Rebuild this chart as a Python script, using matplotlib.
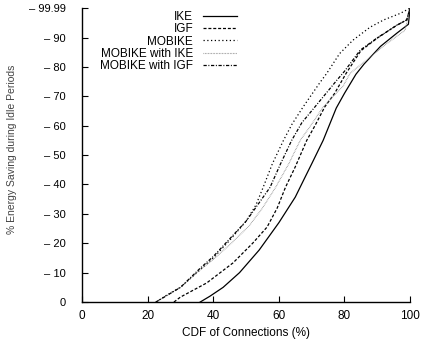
import matplotlib
matplotlib.use("Agg")
import matplotlib.pyplot as plt

plt.rcParams['font.family'] = ['Liberation Sans', 'DejaVu Sans']

# CDF of connections (%) vs energy saving (%) for each scheme
ike_x = [36, 39, 43, 48, 54, 60, 65, 68, 70, 73.5, 77.5, 80, 83.5, 86, 91, 96, 99.5, 100]
ike_y = [0, 2, 5, 10, 17.7, 27, 35.7, 42.5, 47, 55, 66, 71, 77.5, 81, 87, 91.5, 94.5, 99.99]

igf_x = [28, 30, 38, 46, 52, 56.4, 59.5, 62, 65, 68.5, 71, 74, 77, 80.5, 85, 90, 96, 99, 100]
igf_y = [0, 1.7, 6.5, 13.3, 20, 25.5, 32, 39, 46, 55, 60, 66.4, 71, 77.8, 85.5, 89.8, 94.2, 96, 99.99]

mobike_x = [22.5, 26, 30, 36, 40, 45, 50, 53, 55.2, 58, 61.4, 64, 67.4, 72.6, 74.6, 78.5, 82.6, 87.8, 92, 97, 100]
mobike_y = [0, 2.5, 5, 11, 15, 21, 27.5, 33, 39, 47, 55, 60.5, 66.4, 74.8, 77.8, 84.5, 89.1, 93.5, 96, 98.2, 99.99]

mob_ike_x = [22.5, 30, 36, 40, 45.5, 51, 55, 59, 63, 66.5, 70, 73.5, 79.6, 81.7, 87.8, 93, 98.5, 100]
mob_ike_y = [0, 5, 11, 14.5, 20, 26, 32, 39, 47, 55, 60.5, 66.4, 73.5, 77.8, 83.3, 88, 92.5, 99.99]

mob_igf_x = [22.5, 30, 36, 40, 45, 50, 53.5, 57.3, 60.5, 63.9, 67, 71, 77.7, 80, 84.8, 89.9, 96, 99, 100]
mob_igf_y = [0, 5, 11.5, 15.5, 21.5, 27.5, 33, 39, 47, 55, 61, 66.4, 75.5, 78.5, 85.7, 89.8, 94.2, 96, 99.99]

labels = ["IKE", "IGF", "MOBIKE", "MOBIKE with IKE", "MOBIKE with IGF"]

y_ticks = [0, 10, 20, 30, 40, 50, 60, 70, 80, 90, 99.99]
y_ticklabels = ["0", "– 10", "– 20", "– 30", "– 40", "– 50", "– 60", "– 70", "– 80", "– 90", "– 99.99"]
x_ticks = [0, 20, 40, 60, 80, 100]

fig = plt.figure(figsize=(4.21, 3.39), dpi=100)
ax = fig.add_axes([0.195, 0.109, 0.779, 0.867])

ax.plot(ike_x, ike_y, color="black", lw=0.9, ls="-", label=labels[0])
ax.plot(igf_x, igf_y, color="black", lw=0.9, ls=(0, (2.4, 1.5)), label=labels[1])
ax.plot(mobike_x, mobike_y, color="black", lw=0.9, ls=(0, (1, 2.0)), label=labels[2])
ax.plot(mob_ike_x, mob_ike_y, color="#888888", lw=0.8, ls=(0, (0.6, 0.8)), label=labels[3])
ax.plot(mob_igf_x, mob_igf_y, color="black", lw=0.9, ls=(0, (2.6, 1.3, 0.8, 1.3)), label=labels[4])

ax.set_xlim(0, 100)
ax.set_ylim(0, 99.99)
ax.set_xticks(x_ticks)
ax.set_yticks(y_ticks)
ax.set_yticklabels(y_ticklabels)

for s in ["top", "right"]:
    ax.spines[s].set_visible(False)
ax.spines["left"].set_linewidth(1.0)
ax.spines["bottom"].set_linewidth(1.0)

ax.tick_params(axis="both", direction="in", length=4, width=0.8, labelsize=8.5)
ax.tick_params(axis="y", labelsize=8, pad=12)
ax.tick_params(axis="x", pad=6)

ax.set_xlabel("CDF of Connections (%)", fontsize=8.5, labelpad=3)
ax.set_ylabel("% Energy Saving during Idle Periods", fontsize=7.5, color="#444444")
ax.yaxis.set_label_coords(-0.198, 0.52)

ax.legend(loc="upper left", bbox_to_anchor=(0.055, 0.99), frameon=False, markerfirst=False,
          fontsize=8.5, handlelength=2.9, handletextpad=0.8, labelspacing=0.02,
          borderpad=0, borderaxespad=0)

fig.savefig("out.png", dpi=100)
